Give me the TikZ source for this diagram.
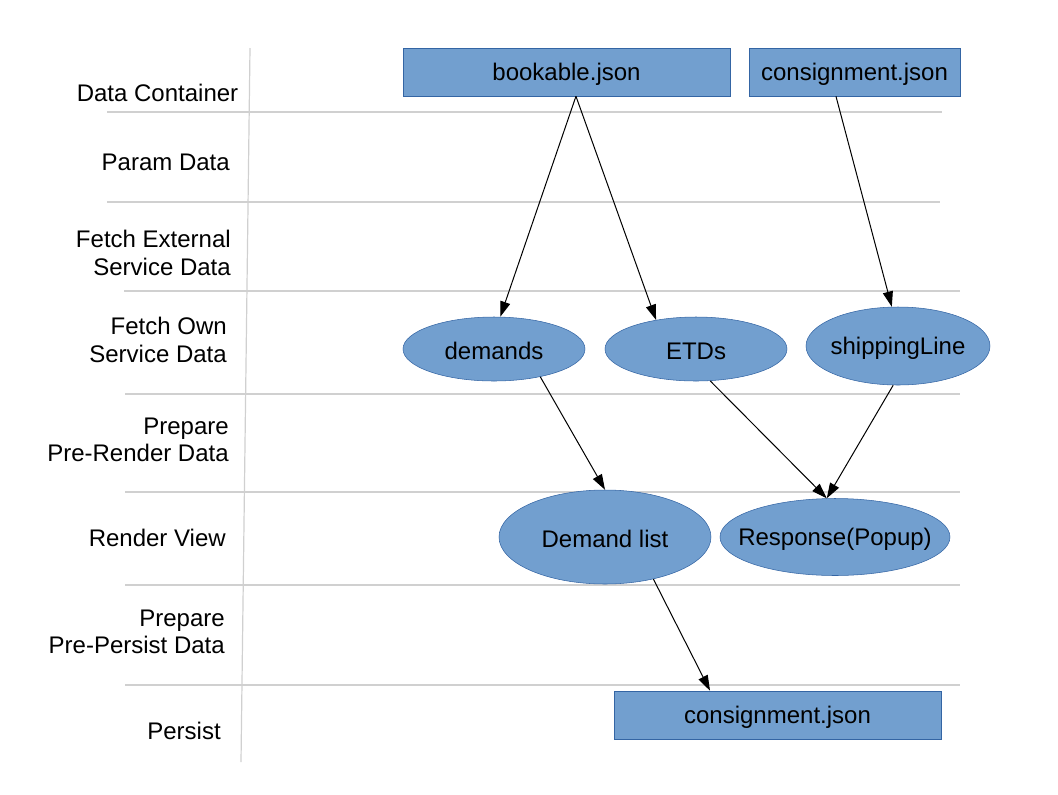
\documentclass[tikz,border=0pt]{standalone}
\usepackage{fontspec}
\setmainfont{Liberation Sans}
\usetikzlibrary{shapes.geometric,arrows.meta}
\definecolor{boxfill}{HTML}{729FCF}
\definecolor{boxline}{HTML}{3465A4}
\definecolor{gridgray}{HTML}{D0D0D0}
\begin{document}
\begin{tikzpicture}[x=0.75pt,y=-0.75pt,
  every node/.style={font=\fontsize{18pt}{20.5pt}\selectfont},
  rowlabel/.style={anchor=east,align=right,inner sep=0pt},
  databox/.style={draw=boxline,fill=boxfill,rectangle,minimum height=36pt,inner sep=0pt,text depth=0pt},
  proc/.style={draw=boxline,fill=boxfill,ellipse,inner sep=0pt},
  proclabel/.style={yshift=-1.6pt},
  gridline/.style={draw=gridgray,line width=0.9pt},
  flow/.style={-{Triangle[length=11.5pt,width=7.6pt]},line width=0.75pt,black}]
\useasboundingbox (0,0) rectangle (1058,794);

% lane separators
\draw[gridline] (250,48) -- (241,762);
\draw[gridline] (107,112) -- (942,112);
\draw[gridline] (107,202) -- (940,202);
\draw[gridline] (124,291) -- (960,291);
\draw[gridline] (125,394) -- (960,394);
\draw[gridline] (125,492) -- (960,492);
\draw[gridline] (125,585) -- (960,585);
\draw[gridline] (125,685) -- (960,685);

% row labels
\node[rowlabel] (l1) at (238.5,93) {Data Container};
\node[rowlabel] (l2) at (230,162) {Param Data};
\node[rowlabel] (l3) at (231,253) {Fetch External\\Service Data};
\node[rowlabel] (l4) at (227,340) {Fetch Own\\Service Data};
\node[rowlabel] (l5) at (229,440) {Prepare\\Pre-Render Data};
\node[rowlabel] (l6) at (226,538) {Render View};
\node[rowlabel] (l7) at (225,632) {Prepare\\Pre-Persist Data};
\node[rowlabel] (l8) at (221,731) {Persist};

% data containers
\node[databox,minimum width=245.25pt] (book) at (566.5,72) {bookable.json};
\node[databox,minimum width=158.25pt] (cons1) at (854.5,72) {consignment.json};
\node[databox,minimum width=245.25pt] (cons2) at (777.5,715) {consignment.json};

% processes
\node[proc,minimum width=136.5pt,minimum height=48pt,label={[proclabel]center:demands}] (dem) at (494,349) {};
\node[proc,minimum width=136.5pt,minimum height=48pt,label={[proclabel]center:ETDs}] (etd) at (696,349) {};
\node[proc,minimum width=138pt,minimum height=58.5pt,label={[proclabel]center:shippingLine}] (ship) at (898,346) {};
\node[proc,minimum width=159pt,minimum height=70.5pt,label={[proclabel]center:Demand list}] (dl) at (605,537) {};
\node[proc,minimum width=172.5pt,minimum height=57.75pt,label={[proclabel]center:Response(Popup)}] (resp) at (835,537) {};

% flows
\draw[flow] ([xshift=7.1pt]book.south) -- (dem.79);
\draw[flow] ([xshift=7.1pt]book.south) -- (etd.144);
\draw[flow] ([xshift=-13.9pt]cons1.south) -- (ship.99);
\draw[flow] (dem.-31) -- (dl.north);
\draw[flow] (etd.-66) -- (resp.102);
\draw[flow] (ship.-97) -- (resp.102);
\draw[flow] (dl.-41) -- ([xshift=-50.6pt]cons2.north);
\end{tikzpicture}
\end{document}
